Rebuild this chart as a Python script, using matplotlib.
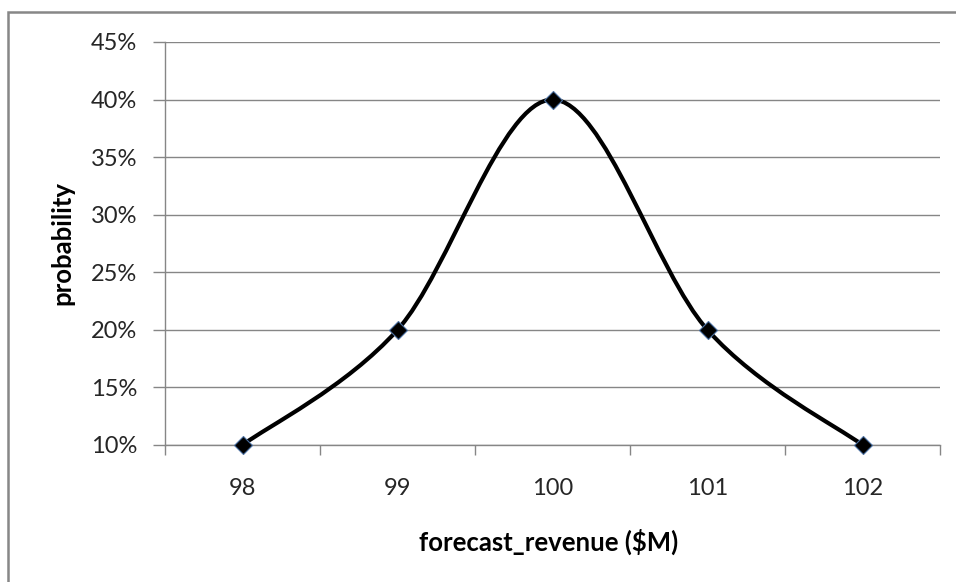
import numpy as np
import matplotlib
matplotlib.use("Agg")
import matplotlib.pyplot as plt
from matplotlib.patches import Rectangle
from matplotlib.path import Path
from matplotlib.patches import PathPatch
from matplotlib.ticker import FuncFormatter, FixedLocator

categories = ["98", "99", "100", "101", "102"]
probability = [0.10, 0.20, 0.40, 0.20, 0.10]
y_ticks = [0.10, 0.15, 0.20, 0.25, 0.30, 0.35, 0.40, 0.45]

W, H = 956, 582
fig = plt.figure(figsize=(W / 100, H / 100), dpi=100)
fig.patch.set_facecolor("white")

font = "Lato"
grey = "#868686"

ax = fig.add_axes([165 / W, 1 - 445 / H, (940 - 165) / W, (445 - 42) / H])
x = np.arange(len(categories))
y = np.array(probability)

# smooth line (Catmull-Rom style Bezier, like Excel's smoothed line)
pts = np.column_stack([x, y])
verts = [tuple(pts[0])]
codes = [Path.MOVETO]
n = len(pts)
for i in range(n - 1):
    p0 = pts[max(i - 1, 0)]
    p1 = pts[i]
    p2 = pts[i + 1]
    p3 = pts[min(i + 2, n - 1)]
    c1 = p1 + (p2 - p0) / 6
    c2 = p2 - (p3 - p1) / 6
    verts += [tuple(c1), tuple(c2), tuple(p2)]
    codes += [Path.CURVE4] * 3
ax.add_patch(PathPatch(Path(verts, codes), fill=False, edgecolor="black",
                       lw=3.0, capstyle="round", joinstyle="round", zorder=3))
ax.plot(x, y, linestyle="none", marker="D", markersize=9.5,
        markerfacecolor="black", markeredgecolor="#4a6fa0", markeredgewidth=0.8,
        zorder=4, clip_on=False)

ax.set_xlim(-0.5, len(categories) - 0.5)
ax.set_ylim(0.10, 0.45)
ax.yaxis.set_major_locator(FixedLocator(y_ticks))
ax.yaxis.set_major_formatter(FuncFormatter(lambda v, p: f"{v*100:.0f}%"))
ax.grid(axis="y", color=grey, lw=1.0)
ax.set_axisbelow(True)

ax.set_xticks(np.arange(-0.5, len(categories), 1.0))
ax.set_xticklabels([])
ax.set_xticks(x, minor=True)
ax.set_xticklabels(categories, minor=True)
ax.tick_params(axis="x", which="major", length=7, width=1, color=grey, direction="out")
ax.tick_params(axis="x", which="minor", length=0, pad=24, labelsize=17, labelcolor="#262626")
ax.tick_params(axis="y", which="major", length=9, width=1, color=grey, direction="out",
               pad=11, labelsize=17, labelcolor="#262626")
for lab in ax.get_xticklabels(minor=True) + ax.get_yticklabels():
    lab.set_fontfamily(font)

for s in ["top", "right"]:
    ax.spines[s].set_visible(False)
for s in ["left", "bottom"]:
    ax.spines[s].set_color(grey)
    ax.spines[s].set_linewidth(1.0)

fig.text(549 / W, 1 - 542 / H, "forecast_revenue ($M)", ha="center", va="center",
         fontsize=18.5, fontweight="bold", fontfamily=font, color="black")
fig.text(62 / W, 1 - 243 / H, "probability", ha="center", va="center", rotation=90,
         fontsize=18.5, fontweight="bold", fontfamily=font, color="black")

# outer chart frame
fig.add_artist(Rectangle((8 / W, -0.1), 1.2, 1 - 12 / H + 0.1, transform=fig.transFigure,
                         fill=False, edgecolor="#878787", lw=1.8))

fig.savefig("out.png", dpi=100, facecolor="white")
